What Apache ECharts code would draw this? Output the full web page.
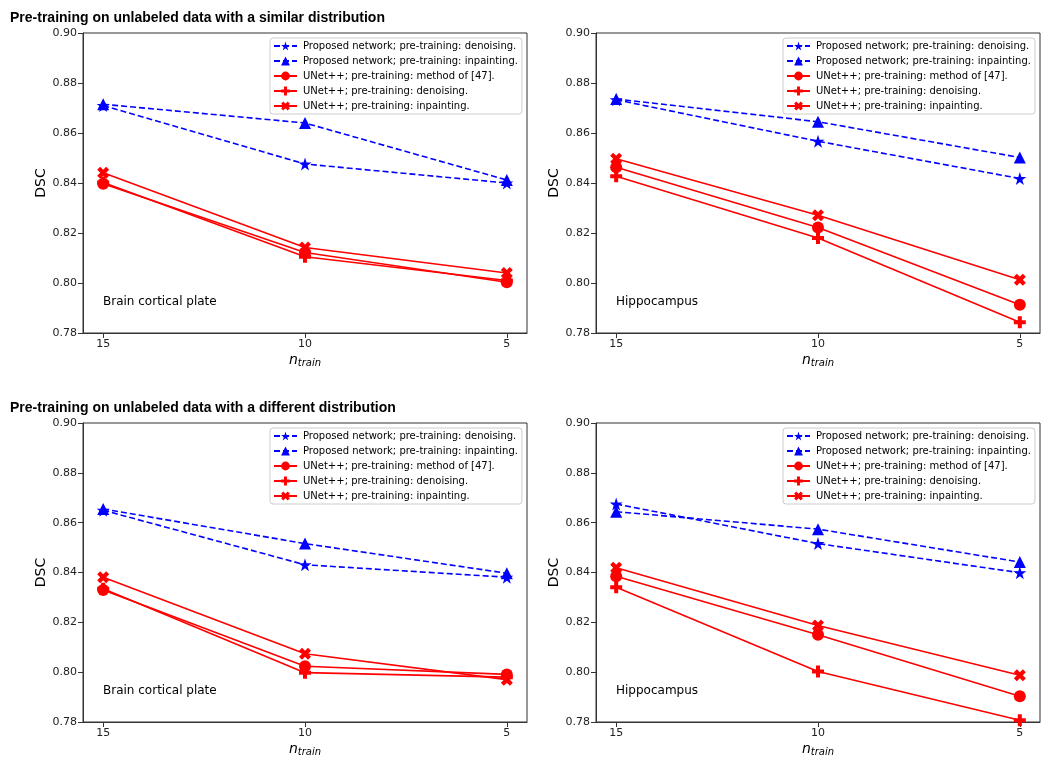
<!DOCTYPE html>
<html>
<head>
<meta charset="utf-8">
<script src="https://cdn.jsdelivr.net/npm/echarts@6/dist/echarts.min.js"></script>
<style>html,body{margin:0;padding:0;background:#fff}#c{width:1050px;height:765px}</style>
</head>
<body>
<div id="c"></div>
<script>
// ---- data ----
const nTrain = [15, 10, 5];
const xTicks = [5, 10, 15];
const seriesNames = [
  'Proposed network; pre-training: denoising.',
  'Proposed network; pre-training: inpainting.',
  'UNet++; pre-training: method of [47].',
  'UNet++; pre-training: denoising.',
  'UNet++; pre-training: inpainting.'
];
const panelTitles = ['Pre-training on unlabeled data with a similar distribution',
                     'Pre-training on unlabeled data with a different distribution'];
const panelLabels = ['Brain cortical plate', 'Hippocampus', 'Brain cortical plate', 'Hippocampus'];

// similar distribution, brain cortical plate
const simBrainStar   = [0.8710, 0.8476, 0.8400];
const simBrainTri    = [0.8715, 0.8640, 0.8412];
const simBrainCircle = [0.8397, 0.8122, 0.8003];
const simBrainPlus   = [0.8402, 0.8105, 0.8010];
const simBrainX      = [0.8441, 0.8142, 0.8040];
// similar distribution, hippocampus
const simHipStar   = [0.8733, 0.8567, 0.8418];
const simHipTri    = [0.8736, 0.8645, 0.8502];
const simHipCircle = [0.8463, 0.8222, 0.7913];
const simHipPlus   = [0.8427, 0.8180, 0.7843];
const simHipX      = [0.8497, 0.8271, 0.8013];
// different distribution, brain cortical plate
const difBrainStar   = [0.8650, 0.8431, 0.8381];
const difBrainTri    = [0.8655, 0.8516, 0.8397];
const difBrainCircle = [0.8330, 0.8024, 0.7991];
const difBrainPlus   = [0.8335, 0.7998, 0.7980];
const difBrainX      = [0.8381, 0.8074, 0.7970];
// different distribution, hippocampus
const difHipStar   = [0.8675, 0.8516, 0.8399];
const difHipTri    = [0.8644, 0.8574, 0.8442];
const difHipCircle = [0.8385, 0.8150, 0.7903];
const difHipPlus   = [0.8341, 0.8003, 0.7807];
const difHipX      = [0.8419, 0.8187, 0.7988];

const panels = [
  [simBrainStar, simBrainTri, simBrainCircle, simBrainPlus, simBrainX],
  [simHipStar, simHipTri, simHipCircle, simHipPlus, simHipX],
  [difBrainStar, difBrainTri, difBrainCircle, difBrainPlus, difBrainX],
  [difHipStar, difHipTri, difHipCircle, difHipPlus, difHipX]
];

// ---- styles ----
const STAR = 'path://M0,-10 L2.245,-3.09 L9.51,-3.09 L3.633,1.18 L5.878,8.09 L0,3.82 L-5.878,8.09 L-3.633,1.18 L-9.51,-3.09 L-2.245,-3.09 Z';
const PLUS = 'path://M-1,-3 L1,-3 L1,-1 L3,-1 L3,1 L1,1 L1,3 L-1,3 L-1,1 L-3,1 L-3,-1 L-1,-1 Z';
const XMARK = 'path://M2,-4 L4,-2 L2,0 L4,2 L2,4 L0,2 L-2,4 L-4,2 L-2,0 L-4,-2 L-2,-4 L0,-2 Z';
const seriesStyles = [
  {color: '#0000ff', symbol: STAR, size: 13, dash: [6, 3]},
  {color: '#0000ff', symbol: 'triangle', size: 12, dash: [6, 3]},
  {color: '#ff0000', symbol: 'circle', size: 12, dash: 'solid'},
  {color: '#ff0000', symbol: PLUS, size: 12, dash: 'solid'},
  {color: '#ff0000', symbol: XMARK, size: 12, dash: 'solid'}
];
const gridPos = [
  {left: 83, top: 33, width: 444, height: 300},
  {left: 596, top: 33, width: 444, height: 300},
  {left: 83, top: 423, width: 444, height: 299},
  {left: 596, top: 423, width: 444, height: 299}
];
const legendPos = [
  {left: 270, top: 38}, {left: 783, top: 38}, {left: 270, top: 428}, {left: 783, top: 428}
];
const FONT = 'DejaVu Sans';

const grids = [], xAxes = [], yAxes = [], series = [], legends = [], graphics = [];
gridPos.forEach((g, i) => {
  grids.push(Object.assign({show: true, borderColor: '#333', borderWidth: 1, backgroundColor: '#fff'}, g));
  xAxes.push({
    type: 'value', gridIndex: i, inverse: true, min: 4.5, max: 15.5,
    name: '{n|n}{s|train}', nameLocation: 'middle', nameGap: 19,
    nameTextStyle: {rich: {
      n: {fontFamily: FONT, fontStyle: 'italic', fontSize: 14, color: '#000'},
      s: {fontFamily: FONT, fontStyle: 'italic', fontSize: 10, color: '#000', verticalAlign: 'bottom', padding: [6, 0, 0, 0]}
    }},
    axisLine: {show: true, lineStyle: {color: '#333'}},
    axisTick: {show: true, customValues: xTicks, length: 5, lineStyle: {color: '#333'}},
    axisLabel: {customValues: xTicks, fontFamily: FONT, fontSize: 11, color: '#222', margin: 6},
    splitLine: {show: false}
  });
  yAxes.push({
    type: 'value', gridIndex: i, min: 0.78, max: 0.90, interval: 0.02,
    name: 'DSC', nameLocation: 'middle', nameGap: 34,
    nameTextStyle: {fontFamily: FONT, fontSize: 14, color: '#000'},
    axisLine: {show: true, lineStyle: {color: '#333'}},
    axisTick: {show: true, length: 5, lineStyle: {color: '#333'}},
    axisLabel: {fontFamily: FONT, fontSize: 11, color: '#222', margin: 6, formatter: v => v.toFixed(2)},
    splitLine: {show: false}
  });
  panels[i].forEach((vals, k) => {
    const st = seriesStyles[k];
    series.push({
      name: seriesNames[k], type: 'line', xAxisIndex: i, yAxisIndex: i,
      data: nTrain.map((x, j) => [x, vals[j]]),
      symbol: st.symbol, symbolSize: st.size, showSymbol: true,
      lineStyle: {color: st.color, width: 1.6, type: st.dash},
      itemStyle: {color: st.color},
      emphasis: {disabled: true}, animation: false, z: 3 + k
    });
  });
  legends.push(Object.assign({
    orient: 'vertical', data: seriesNames, itemWidth: 23, itemHeight: 11, itemGap: 5,
    backgroundColor: '#fff', borderColor: '#ccc', borderWidth: 1, borderRadius: 3,
    padding: [3, 4, 3, 3],
    textStyle: {fontFamily: FONT, fontSize: 10, color: '#000', padding: [0, 0, 0, 1]}, selectedMode: false
  }, legendPos[i]));
  graphics.push({
    type: 'text', left: g.left + 20, top: g.top + g.height - 37, z: 10,
    style: {text: panelLabels[i], font: '12px "DejaVu Sans"', fill: '#000'}
  });
});

const chart = echarts.init(document.getElementById('c'));
chart.setOption({
  animation: false,
  backgroundColor: '#fff',
  title: [
    {text: panelTitles[0], left: 5, top: 6, textStyle: {fontFamily: 'Liberation Sans', fontWeight: 'bold', fontSize: 14, color: '#000'}},
    {text: panelTitles[1], left: 5, top: 396, textStyle: {fontFamily: 'Liberation Sans', fontWeight: 'bold', fontSize: 14, color: '#000'}}
  ],
  grid: grids, xAxis: xAxes, yAxis: yAxes, series: series, legend: legends, graphic: graphics
});
</script>
</body>
</html>
